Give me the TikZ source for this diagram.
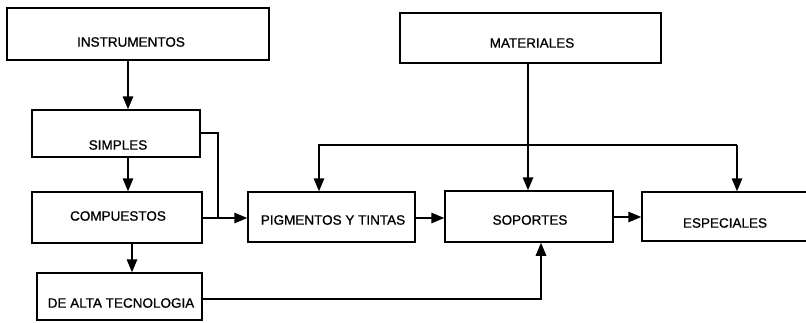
\documentclass[tikz,border=0pt]{standalone}
\usepackage{fontspec}
\setmainfont{Liberation Sans}[BoldFont=Liberation Sans, BoldFeatures={FakeBold=0.9}]
\usetikzlibrary{arrows.meta,calc}
\tikzset{
  box/.style={draw, line width=1.5pt, rectangle, inner sep=0pt},
  lbl/.style={font=\fontsize{13.5}{15}\selectfont\bfseries, inner sep=0pt},
  arr/.style={line width=1.5pt, -{Triangle[length=13pt,width=10.5pt]}},
  ln/.style={line width=1.5pt},
}
\begin{document}
\begin{tikzpicture}[x=1pt,y=-1pt]
\useasboundingbox (0,0) rectangle (806,322);
\clip (0,0) rectangle (806,322);
% boxes
\node[box, minimum width=262pt, minimum height=52pt] (ins) at (138,34) {};
\node[box, minimum width=168pt, minimum height=47pt] (sim) at (116,133.5) {};
\node[box, minimum width=170pt, minimum height=51pt] (com) at (117,217.5) {};
\node[box, minimum width=165pt, minimum height=47pt] (alt) at (119.5,296.5) {};
\node[box, minimum width=261pt, minimum height=50pt] (mat) at (530.5,38) {};
\node[box, minimum width=167pt, minimum height=50pt] (pig) at (331.5,217) {};
\node[box, minimum width=168pt, minimum height=51pt] (sop) at (529,216.5) {};
\node[box, minimum width=170pt, minimum height=49pt] (esp) at (727,216.5) {};
% texts
\node[lbl] (tins) at (131,42) {INSTRUMENTOS};
\node[lbl] (tsim) at (118,145) {SIMPLES};
\node[lbl] (tcom) at (118,216) {COMPUESTOS};
\node[lbl] (talt) at (121,303) {DE ALTA TECNOLOGIA};
\node[lbl] (tmat) at (532,43) {MATERIALES};
\node[lbl] (tpig) at (333,220) {PIGMENTOS Y TINTAS};
\node[lbl] (tsop) at (530,220) {SOPORTES};
\node[lbl] (tesp) at (725,223) {ESPECIALES};
% helper coordinates
\coordinate (c1) at (128,0);
\coordinate (c2) at (132,0);
\coordinate (r1) at (0,218);
\coordinate (r2) at (0,133);
\coordinate (j) at (218,218);
\coordinate (m) at (528,0);
\coordinate (b1) at (319,145);
\coordinate (b2) at (737,145);
\coordinate (r3) at (0,299);
\coordinate (s1) at (541,299);
\coordinate (r4) at (0,217);
% connectors
\draw[arr] (ins.south -| c1) -- (sim.north -| c1);
\draw[arr] (sim.south -| c1) -- (com.north -| c1);
\draw[arr] (com.south -| c2) -- (alt.north -| c2);
\draw[arr] (com.east |- r1) -- (pig.west |- r1);
\draw[ln] (sim.east |- r2) -| (j);
\draw[arr] (pig.east |- r1) -- (sop.west |- r1);
\draw[arr] (sop.east |- r4) -- (esp.west |- r4);
\draw[arr] (mat.south -| m) -- (sop.north -| m);
\draw[arr] (b2) -- (b1) -- (pig.north -| b1);
\draw[arr] (b2) -- (esp.north -| b2);
\draw[arr] (alt.east |- r3) -- (s1) -- (sop.south -| s1);
\end{tikzpicture}
\end{document}
